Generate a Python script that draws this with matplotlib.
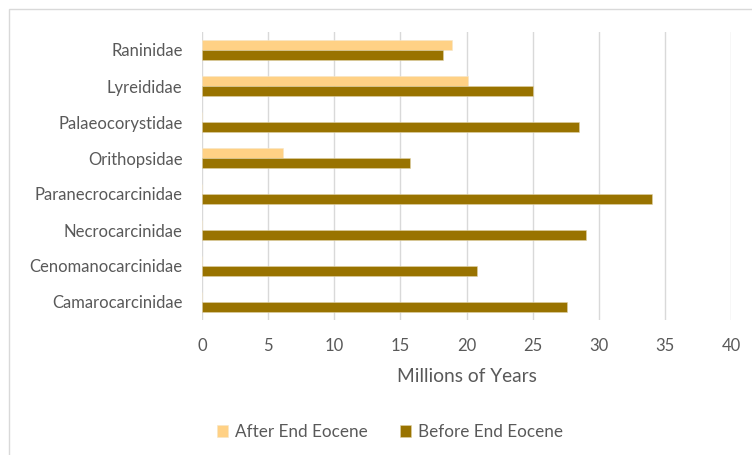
import matplotlib
matplotlib.use("Agg")
import matplotlib.pyplot as plt
import numpy as np
from matplotlib.patches import Rectangle

plt.rcParams['font.family'] = ['Lato', 'DejaVu Sans']

categories = ["Raninidae", "Lyreididae", "Palaeocorystidae", "Orithopsidae",
              "Paranecrocarcinidae", "Necrocarcinidae", "Cenomanocarcinidae",
              "Camarocarcinidae"]
after_end_eocene = [18.9, 20.1, 0, 6.1, 0, 0, 0, 0]
before_end_eocene = [18.2, 25.0, 28.5, 15.7, 34.05, 29.0, 20.8, 27.6]
xticks = [0, 5, 10, 15, 20, 25, 30, 35, 40]

W, H = 752, 455
fig = plt.figure(figsize=(W / 100, H / 100), dpi=100)
fig.patches.append(Rectangle((9 / W, -0.1), 1.2, 1.1 - 9 / H + 0.0,
                             transform=fig.transFigure, fill=False,
                             edgecolor="#D9D9D9", linewidth=1.0))
ax = fig.add_axes([202 / W, 1 - 320 / H, (731 - 202) / W, 288 / H])

n = len(categories)
y = np.arange(n)[::-1].astype(float)
h = 0.265
after_color = "#FFD185"
before_color = "#997300"
ax.barh(y + h / 2, after_end_eocene, height=h, color=after_color,
        edgecolor="#F5E6C8", linewidth=0.4, label="After End Eocene", zorder=3)
ax.barh(y - h / 2, before_end_eocene, height=h, color=before_color,
        edgecolor="#E0D2A8", linewidth=0.4, label="Before End Eocene", zorder=3)

ax.set_xlim(0, 40)
ax.set_ylim(-0.5, n - 0.5)
ax.set_xticks(xticks)
ax.set_xticklabels([str(t) for t in xticks])
ax.set_yticks(y)
ax.set_yticklabels(categories)
for s in ax.spines.values():
    s.set_visible(False)
ax.tick_params(axis='both', length=0, colors="#595959", labelsize=12)
ax.tick_params(axis='x', pad=13)
ax.tick_params(axis='y', pad=14)
ax.xaxis.grid(True, color="#D9D9D9", linewidth=1.0, zorder=0)
ax.set_axisbelow(True)
ax.set_xlabel("Millions of Years", color="#595959", fontsize=13.8, labelpad=10)

handles, labels = ax.get_legend_handles_labels()
fig.legend(handles, labels, loc="center", bbox_to_anchor=(390 / W, 1 - 432 / H),
           ncol=2, frameon=False, fontsize=12.3, labelcolor="#595959",
           handlelength=0.65, handleheight=0.65, handletextpad=0.4,
           columnspacing=1.9)

fig.savefig("out.png", dpi=100, facecolor="white")
